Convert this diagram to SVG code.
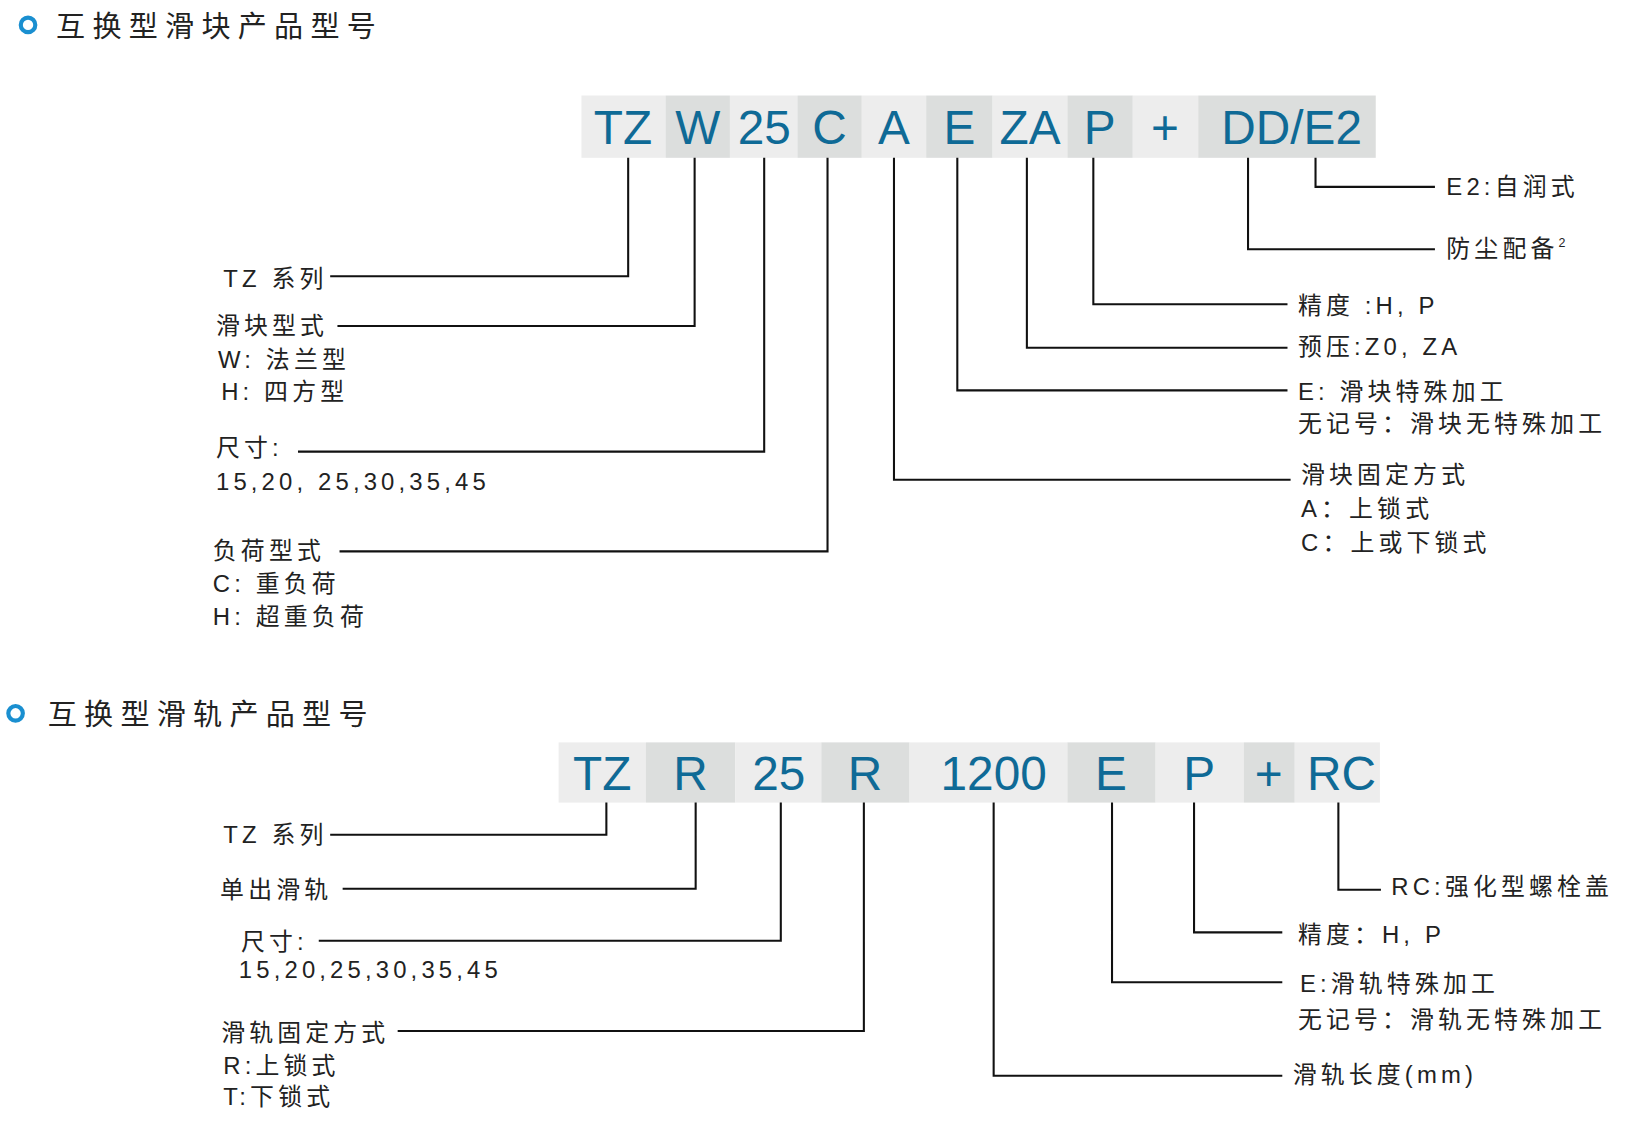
<svg xmlns="http://www.w3.org/2000/svg" width="1628" height="1123" viewBox="0 0 1628 1123">
<style>
.l{fill:#ededed}.d{fill:#dcdedd}
.c{font-family:"Liberation Sans","Noto Sans CJK SC",sans-serif;font-size:46px;fill:#0f6a96;text-anchor:middle}
.t{font-family:"Liberation Sans","Noto Sans CJK SC",sans-serif;font-size:23px;fill:#222;letter-spacing:4px}
.h{font-family:"Noto Sans CJK SC",sans-serif;font-size:28px;fill:#222;letter-spacing:7px}
.k{fill:none;stroke:#111;stroke-width:2}
.o{fill:none;stroke:#1a8fd0;stroke-width:4}
</style>
<rect width="1628" height="1123" fill="#fff"/>
<g transform="scale(1.0383)">
<g id="title1"><circle class="o" cx="27" cy="24" r="7"/><text class="h" x="54" y="36">互换型滑块产品型号</text></g>
<g id="title2"><circle class="o" cx="15" cy="687" r="7"/><text class="h" x="46" y="698">互换型滑轨产品型号</text></g>
<g id="code1">
<rect class="l" x="560" y="92" width="81" height="60"/><text class="c" x="600" y="139">TZ</text>
<rect class="d" x="641" y="92" width="62" height="60"/><text class="c" x="672" y="139">W</text>
<rect class="l" x="703" y="92" width="65" height="60"/><text class="c" x="736" y="139">25</text>
<rect class="d" x="768" y="92" width="62" height="60"/><text class="c" x="799" y="139">C</text>
<rect class="l" x="830" y="92" width="62" height="60"/><text class="c" x="861" y="139">A</text>
<rect class="d" x="892" y="92" width="64" height="60"/><text class="c" x="924" y="139">E</text>
<rect class="l" x="956" y="92" width="72" height="60"/><text class="c" x="992" y="139">ZA</text>
<rect class="d" x="1028" y="92" width="63" height="60"/><text class="c" x="1059" y="139">P</text>
<rect class="l" x="1091" y="92" width="63" height="60"/><text class="c" x="1122" y="139">+</text>
<rect class="d" x="1154" y="92" width="171" height="60"/><text class="c" x="1244" y="139">DD/E2</text>
</g>
<g id="code2">
<rect class="l" x="538" y="715" width="84" height="58"/><text class="c" x="580" y="761">TZ</text>
<rect class="d" x="622" y="715" width="86" height="58"/><text class="c" x="665" y="761">R</text>
<rect class="l" x="708" y="715" width="83" height="58"/><text class="c" x="750" y="761">25</text>
<rect class="d" x="791" y="715" width="85" height="58"/><text class="c" x="833" y="761">R</text>
<rect class="l" x="876" y="715" width="152" height="58"/><text class="c" x="957" y="761">1200</text>
<rect class="d" x="1028" y="715" width="85" height="58"/><text class="c" x="1070" y="761">E</text>
<rect class="l" x="1113" y="715" width="85" height="58"/><text class="c" x="1155" y="761">P</text>
<rect class="d" x="1198" y="715" width="49" height="58"/><text class="c" x="1222" y="761">+</text>
<rect class="l" x="1247" y="715" width="82" height="58"/><text class="c" x="1292" y="761">RC</text>
</g>
<g id="connectors">
<path class="k" d="M605 152V266H318M669 152V314H325M736 152V435H287M797 152V531H327M861 152V462H1243M922 152V376H1240M989 152V335H1240M1053 152V293H1240M1202 152V240H1382M1267 152V180H1382"/>
<path class="k" d="M584 773V804H318M670 773V856H330M752 773V906H307M832 773V993H383M957 773V1036H1235M1071 773V946H1235M1150 773V898H1235M1289 773V857H1330"/>
</g>
<g id="labels1">
<text class="t" x="215" y="276">TZ 系列</text>
<text class="t" x="208" y="322">滑块型式</text>
<text class="t" x="210" y="354">W: 法兰型</text>
<text class="t" x="213" y="385">H: 四方型</text>
<text class="t" x="208" y="439">尺寸:</text>
<text class="t" x="208" y="472">15,20, 25,30,35,45</text>
<text class="t" x="205" y="538">负荷型式</text>
<text class="t" x="205" y="570">C:  重负荷</text>
<text class="t" x="205" y="602">H:  超重负荷</text>
<text class="t" x="1393" y="188">E2:自润式</text>
<text class="t" x="1393" y="248">防尘配备<tspan font-size="12" dy="-10">2</tspan></text>
<text class="t" x="1250" y="302">精度 :H, P</text>
<text class="t" x="1250" y="342">预压:Z0, ZA</text>
<text class="t" x="1250" y="385">E:  滑块特殊加工</text>
<text class="t" x="1250" y="416">无记号：滑块无特殊加工</text>
<text class="t" x="1253" y="465">滑块固定方式</text>
<text class="t" x="1253" y="498">A：上锁式</text>
<text class="t" x="1253" y="531">C：上或下锁式</text>
</g>
<g id="labels2">
<text class="t" x="215" y="812">TZ 系列</text>
<text class="t" x="212" y="865">单出滑轨</text>
<text class="t" x="232" y="915">尺寸:</text>
<text class="t" x="230" y="942">15,20,25,30,35,45</text>
<text class="t" x="213" y="1003">滑轨固定方式</text>
<text class="t" x="215" y="1034">R:上锁式</text>
<text class="t" x="215" y="1064">T:下锁式</text>
<text class="t" x="1340" y="862">RC:强化型螺栓盖</text>
<text class="t" x="1250" y="908">精度：H, P</text>
<text class="t" x="1252" y="955">E:滑轨特殊加工</text>
<text class="t" x="1250" y="990">无记号：滑轨无特殊加工</text>
<text class="t" x="1245" y="1043">滑轨长度(mm)</text>
</g>
</g>
</svg>
